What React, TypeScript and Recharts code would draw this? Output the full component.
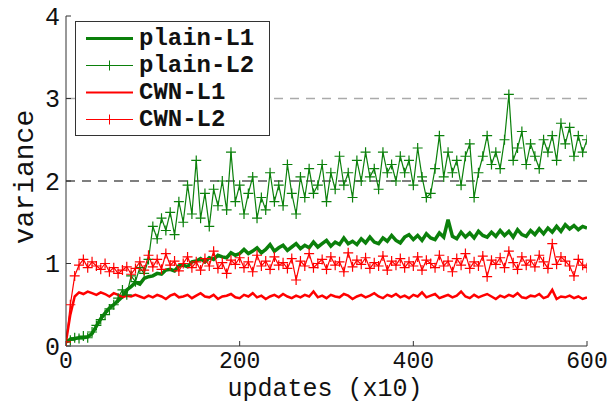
import React from 'react';
import { LineChart, Line, XAxis, YAxis, ReferenceLine, Legend, Label } from 'recharts';

const updates = [
  0, 5, 10, 15, 20, 25, 30, 35, 40, 45,
  50, 55, 60, 65, 70, 75, 80, 85, 90, 95,
  100, 105, 110, 115, 120, 125, 130, 135, 140, 145,
  150, 155, 160, 165, 170, 175, 180, 185, 190, 195,
  200, 205, 210, 215, 220, 225, 230, 235, 240, 245,
  250, 255, 260, 265, 270, 275, 280, 285, 290, 295,
  300, 305, 310, 315, 320, 325, 330, 335, 340, 345,
  350, 355, 360, 365, 370, 375, 380, 385, 390, 395,
  400, 405, 410, 415, 420, 425, 430, 435, 440, 445,
  450, 455, 460, 465, 470, 475, 480, 485, 490, 495,
  500, 505, 510, 515, 520, 525, 530, 535, 540, 545,
  550, 555, 560, 565, 570, 575, 580, 585, 590, 595,
  600,
];

const plainL1 = [
  0.05, 0.08, 0.09, 0.10, 0.10, 0.11, 0.15, 0.24, 0.33, 0.40,
  0.46, 0.50, 0.55, 0.60, 0.68, 0.72, 0.77, 0.75, 0.82, 0.84,
  0.85, 0.88, 0.87, 0.92, 0.93, 0.91, 0.97, 0.98, 0.96, 1.02,
  1.03, 1.06, 1.02, 1.07, 1.05, 1.10, 1.08, 1.07, 1.13, 1.10,
  1.12, 1.17, 1.12, 1.15, 1.19, 1.13, 1.17, 1.23, 1.15, 1.19,
  1.22, 1.16, 1.20, 1.24, 1.18, 1.22, 1.19, 1.26, 1.20, 1.24,
  1.28, 1.21, 1.26, 1.23, 1.31, 1.24, 1.27, 1.23, 1.30, 1.25,
  1.32, 1.26, 1.24, 1.31, 1.27, 1.34, 1.28, 1.25, 1.32, 1.35,
  1.29, 1.34, 1.28, 1.36, 1.31, 1.29, 1.37, 1.32, 1.53, 1.33,
  1.30, 1.38, 1.32, 1.37, 1.31, 1.39, 1.34, 1.32, 1.38, 1.33,
  1.40, 1.34, 1.39, 1.32, 1.41, 1.35, 1.33, 1.40, 1.35, 1.42,
  1.36, 1.43, 1.38, 1.45, 1.39, 1.47, 1.42, 1.46, 1.41, 1.45,
  1.43,
];

const plainL2 = [
  0.05, 0.07, 0.10, 0.09, 0.12, 0.10, 0.17, 0.25, 0.32, 0.38,
  0.45, 0.50, 0.58, 0.68, 0.62, 0.85, 0.78, 0.95, 0.88, 1.05,
  1.45, 1.30, 1.55, 1.40, 1.62, 1.35, 1.75, 1.50, 1.95, 1.60,
  2.25, 1.55, 1.85, 1.45, 1.90, 1.70, 2.00, 1.65, 2.35, 1.75,
  1.95, 1.60, 1.85, 2.05, 1.55, 1.80, 1.65, 2.10, 1.75, 1.95,
  1.70, 2.20, 1.85, 1.60, 2.05, 1.80, 2.15, 1.85, 1.95, 2.20,
  1.75, 2.10, 1.90, 2.30, 1.95, 2.10, 1.80, 2.25, 2.00, 2.35,
  2.05, 2.15, 1.90, 2.35, 2.10, 2.20, 2.00, 2.30, 2.10, 2.25,
  1.95, 2.40, 2.05, 1.80, 1.85, 2.15, 2.55, 2.05, 2.35, 2.10,
  2.25, 1.95, 2.30, 2.45, 1.80, 2.10, 2.30, 2.55, 2.20, 2.35,
  2.15, 2.50, 3.05, 2.25, 2.40, 2.60, 2.20, 2.45, 2.30, 2.15,
  2.50, 2.35, 2.55, 2.25, 2.70, 2.45, 2.65, 2.30, 2.55, 2.35,
  2.50,
];

const cwnL1 = [
  0.05, 0.38, 0.60, 0.65, 0.63, 0.66, 0.64, 0.62, 0.65, 0.63,
  0.60, 0.64, 0.62, 0.59, 0.61, 0.60, 0.62, 0.60, 0.58, 0.61,
  0.59, 0.62, 0.60, 0.57, 0.61, 0.63, 0.59, 0.60, 0.62, 0.58,
  0.61, 0.64, 0.60, 0.59, 0.62, 0.57, 0.60, 0.61, 0.63, 0.59,
  0.58, 0.62, 0.60, 0.64, 0.59, 0.61, 0.57, 0.60, 0.62, 0.59,
  0.63, 0.60, 0.58, 0.61, 0.59, 0.62, 0.60, 0.66, 0.59, 0.61,
  0.58, 0.62, 0.60, 0.59, 0.63, 0.61, 0.57, 0.60, 0.62, 0.59,
  0.61, 0.64, 0.60, 0.58, 0.62, 0.60, 0.63, 0.59, 0.61, 0.58,
  0.62, 0.60, 0.65, 0.59, 0.61, 0.63, 0.58, 0.60, 0.62, 0.59,
  0.61, 0.66, 0.60, 0.58, 0.62, 0.59, 0.61, 0.63, 0.60, 0.57,
  0.61, 0.59, 0.62, 0.60, 0.64, 0.59, 0.58, 0.61, 0.60, 0.63,
  0.58, 0.60, 0.68, 0.57, 0.60, 0.59, 0.61, 0.58, 0.60, 0.57,
  0.59,
];

const cwnL2 = [
  0.05, 0.50, 0.85, 0.98, 1.05, 0.95, 1.02, 0.97, 0.93, 1.00,
  0.90, 0.95, 0.88, 0.92, 0.96, 0.87, 0.94, 1.02, 0.92, 1.10,
  0.96, 1.05, 0.93, 1.12, 0.98, 1.03, 0.91, 1.00, 1.08, 0.95,
  1.02, 0.92, 1.06, 0.97, 1.15, 0.94, 1.01, 0.88, 1.04, 0.99,
  1.07, 0.95, 1.02, 0.90, 1.10, 0.97, 1.03, 0.93, 1.08, 0.98,
  1.01, 0.94, 1.06, 0.80, 1.03, 0.97, 1.12, 0.95, 1.00, 1.05,
  0.93, 1.08, 0.98, 1.02, 0.90, 1.13, 0.96, 1.04, 0.99, 1.07,
  0.94, 1.01, 0.97, 1.09, 0.92, 1.03, 0.98, 1.06, 0.95, 1.02,
  0.97, 1.08, 0.92, 1.04, 1.00, 0.95, 1.10, 0.97, 1.03, 0.90,
  1.06, 0.98, 1.12, 0.94, 1.02, 0.97, 1.09, 0.84, 1.04, 0.99,
  1.07, 0.95, 1.15, 1.01, 0.93, 1.08, 0.98, 1.04, 0.96, 1.10,
  1.02, 0.94, 1.24, 0.99, 1.08, 1.03, 0.97, 0.85, 1.05, 0.98,
  0.95,
];

const seriesNames = ['plain-L1', 'plain-L2', 'CWN-L1', 'CWN-L2'];
const xTicks = [0, 200, 400, 600];
const yTicks = [0, 1, 2, 3, 4];
const xLabel = 'updates (x10)';
const yLabel = 'variance';

const GREEN = '#0b800b';
const RED = '#ff0000';
const AXIS = '#333333';
const FONT = '"Liberation Mono", "DejaVu Sans Mono", monospace';

const data = updates.map((u, i) => ({
  x: u,
  plainL1: plainL1[i],
  plainL2: plainL2[i],
  cwnL1: cwnL1[i],
  cwnL2: cwnL2[i],
}));

const renderPlus = (props: any) => {
  const { cx, cy, stroke, index } = props;
  if (cx == null || cy == null) return <g key={`e-${index}`} />;
  return (
    <path
      key={`p-${index}`}
      d={`M${cx - 5},${cy}H${cx + 5}M${cx},${cy - 5}V${cy + 5}`}
      stroke={stroke}
      strokeWidth={1.2}
      fill="none"
    />
  );
};

const legendStyles = [
  { color: GREEN, width: 3, marker: false },
  { color: GREEN, width: 1, marker: true },
  { color: RED, width: 2, marker: false },
  { color: RED, width: 1, marker: true },
];

const renderLegend = () => (
  <div
    style={{
      width: 195,
      height: 115,
      border: `1px solid ${AXIS}`,
      background: '#fff',
      boxSizing: 'border-box',
      position: 'relative',
      fontFamily: FONT,
      fontWeight: 'bold',
      fontSize: 24,
      color: '#111',
    }}
  >
    {seriesNames.map((name, i) => {
      const st = legendStyles[i];
      return (
        <div
          key={name}
          style={{
            position: 'absolute',
            left: 0,
            top: 3 + i * 27,
            height: 27,
            display: 'flex',
            alignItems: 'center',
          }}
        >
          <svg width={58} height={27} style={{ display: 'block' }}>
            <line x1={10} x2={57} y1={13.5} y2={13.5} stroke={st.color} strokeWidth={st.width} />
            {st.marker && (
              <path d="M33.5,8.5V18.5M28.5,13.5H38.5" stroke={st.color} strokeWidth={1} fill="none" />
            )}
          </svg>
          <span style={{ marginLeft: 5, lineHeight: '27px', whiteSpace: 'nowrap' }}>{name}</span>
        </div>
      );
    })}
  </div>
);

export default function App() {
  const xTickStyle = { fill: '#111', fontSize: 23, fontFamily: FONT };
  const yTickStyle = { fill: '#111', fontSize: 25, fontFamily: FONT };
  return (
    <div style={{ position: 'absolute', left: 0, top: 0, width: 615, height: 403, background: '#fff' }}>
      <LineChart width={615} height={403} data={data} margin={{ top: 16, right: 28, bottom: 0, left: 0 }}>
        <XAxis
          dataKey="x"
          type="number"
          domain={[0, 600]}
          ticks={xTicks}
          interval={0}
          height={57}
          tickSize={-5}
          tickMargin={11}
          stroke={AXIS}
          tick={xTickStyle}
          allowDataOverflow
        >
          <Label
            content={() => (
              <text x={325} y={396} textAnchor="middle" fontFamily={FONT} fontSize={25} fill="#111">
                {xLabel}
              </text>
            )}
          />
        </XAxis>
        <XAxis
          xAxisId="top"
          orientation="top"
          type="number"
          domain={[0, 600]}
          ticks={xTicks}
          interval={0}
          height={0}
          tickSize={-5}
          tickFormatter={() => ''}
          stroke={AXIS}
          allowDataOverflow
        />
        <YAxis
          type="number"
          domain={[0, 4]}
          ticks={yTicks}
          interval={0}
          width={66}
          tickSize={-5}
          tickMargin={11}
          stroke={AXIS}
          tick={yTickStyle}
          allowDataOverflow
        >
          <Label
            content={() => (
              <text
                x={33}
                y={177}
                transform="rotate(-90 33 177)"
                textAnchor="middle"
                fontFamily={FONT}
                fontSize={28}
                fill="#111"
              >
                {yLabel}
              </text>
            )}
          />
        </YAxis>
        <YAxis
          yAxisId="right"
          orientation="right"
          type="number"
          domain={[0, 4]}
          ticks={yTicks}
          interval={0}
          width={0}
          tickSize={-5}
          tickFormatter={() => ''}
          stroke={AXIS}
          allowDataOverflow
        />
        <ReferenceLine y={2} stroke="#000" strokeDasharray="9 7" strokeWidth={1.2} />
        <ReferenceLine y={3} stroke="#aaaaaa" strokeDasharray="9 7" strokeWidth={1.5} />
        <Line
          dataKey="plainL1"
          name={seriesNames[0]}
          type="linear"
          stroke={GREEN}
          strokeWidth={3.5}
          dot={false}
          activeDot={false}
          isAnimationActive={false}
        />
        <Line
          dataKey="plainL2"
          name={seriesNames[1]}
          type="linear"
          stroke={GREEN}
          strokeWidth={1.2}
          dot={renderPlus}
          activeDot={false}
          isAnimationActive={false}
        />
        <Line
          dataKey="cwnL1"
          name={seriesNames[2]}
          type="linear"
          stroke={RED}
          strokeWidth={2.5}
          dot={false}
          activeDot={false}
          isAnimationActive={false}
        />
        <Line
          dataKey="cwnL2"
          name={seriesNames[3]}
          type="linear"
          stroke={RED}
          strokeWidth={1.2}
          dot={renderPlus}
          activeDot={false}
          isAnimationActive={false}
        />
        <Legend
          layout="vertical"
          align="center"
          verticalAlign="middle"
          content={renderLegend}
          wrapperStyle={{ position: 'absolute', left: 75, top: 21, width: 195, height: 115 }}
        />
      </LineChart>
    </div>
  );
}
